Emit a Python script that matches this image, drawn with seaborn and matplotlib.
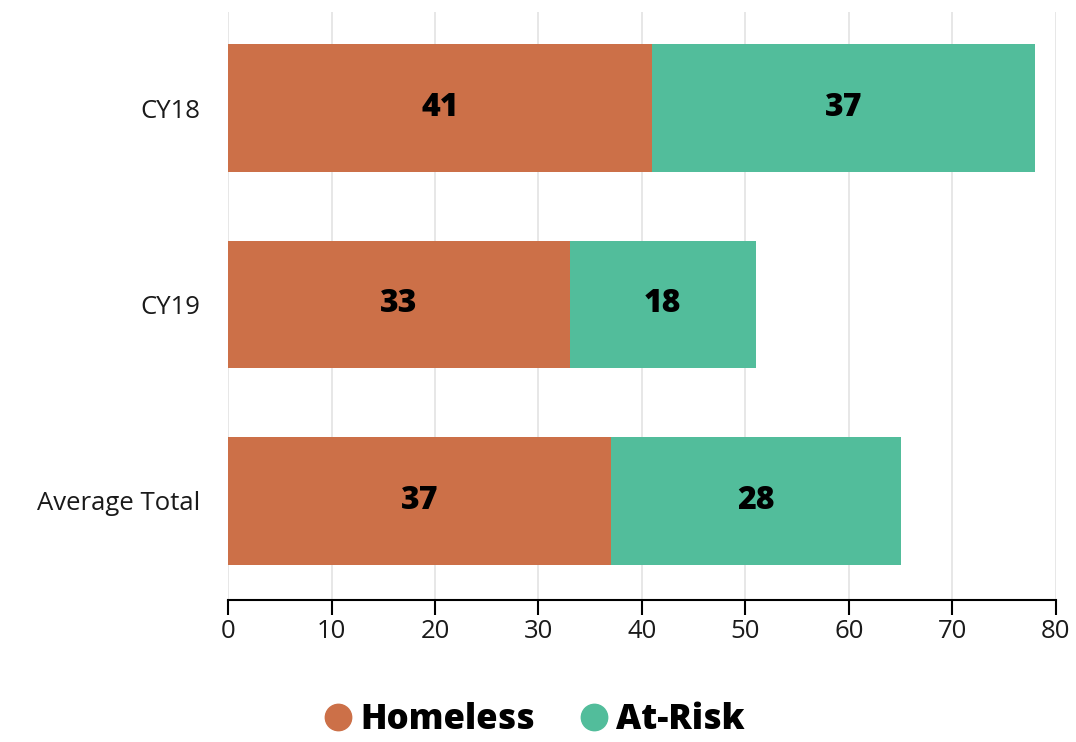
import numpy as np
import pandas as pd
import matplotlib
matplotlib.use("Agg")
import matplotlib.pyplot as plt
import seaborn as sns
from matplotlib.lines import Line2D

# ── Data ───────────────────────────────────────────────────────────────────────
categories = ["CY18", "CY19", "Average Total"]
homeless = [41, 33, 37]
at_risk = [37, 18, 28]
x_ticks = [0, 10, 20, 30, 40, 50, 60, 70, 80]

HOMELESS_COLOR = "#CC7048"
AT_RISK_COLOR = "#52BD9B"

sns.set_style("white")
plt.rcParams["font.family"] = ["Open Sans", "DejaVu Sans"]
plt.rcParams["text.color"] = "black"
plt.rcParams["xtick.labelcolor"] = "#1a1a1a"
plt.rcParams["ytick.labelcolor"] = "#1a1a1a"

df = pd.DataFrame({
    "category": categories,
    "homeless": homeless,
    "at_risk": at_risk,
})
df["total"] = df["homeless"] + df["at_risk"]

fig = plt.figure(figsize=(10.76, 7.42), dpi=100)
ax = fig.add_axes([0.2119, 0.1914, 0.7695, 0.7926])

# stacked bars: totals first (At-Risk colour), then Homeless on top
sns.barplot(data=df, x="total", y="category", order=categories,
            color=AT_RISK_COLOR, width=0.65, saturation=1, linewidth=0,
            ax=ax, zorder=2)
sns.barplot(data=df, x="homeless", y="category", order=categories,
            color=HOMELESS_COLOR, width=0.65, saturation=1, linewidth=0,
            ax=ax, zorder=3)

# value labels centred in each segment
for i, row in df.iterrows():
    ax.text(row["homeless"] / 2, i, f"{row['homeless']}", ha="center",
            va="center", fontsize=23, fontweight="heavy", color="black", zorder=4)
    ax.text(row["homeless"] + row["at_risk"] / 2, i, f"{row['at_risk']}",
            ha="center", va="center", fontsize=23, fontweight="heavy",
            color="black", zorder=4)

ax.set_xlim(0, 80)
ax.set_ylim(2.505, -0.49)
ax.set_xticks(x_ticks)
ax.set_xlabel("")
ax.set_ylabel("")

ax.grid(axis="x", color="#E3E3E3", linewidth=1.2, zorder=0)
ax.set_axisbelow(True)

for side in ["top", "right", "left"]:
    ax.spines[side].set_visible(False)
ax.spines["bottom"].set_color("black")
ax.spines["bottom"].set_linewidth(1.5)

ax.tick_params(axis="x", direction="out", length=11, width=1.5,
               color="black", labelsize=18.5, pad=3, bottom=True)
ax.tick_params(axis="y", length=0, labelsize=18.5, pad=20)

# legend with round markers at the bottom
handles = [
    Line2D([0], [0], marker="o", linestyle="", markersize=19,
           markerfacecolor=HOMELESS_COLOR, markeredgecolor=HOMELESS_COLOR,
           label="Homeless"),
    Line2D([0], [0], marker="o", linestyle="", markersize=19,
           markerfacecolor=AT_RISK_COLOR, markeredgecolor=AT_RISK_COLOR,
           label="At-Risk"),
]
fig.legend(handles=handles, loc="center", bbox_to_anchor=(0.495, 0.03),
           ncol=2, frameon=False, prop={"size": 25, "weight": "heavy"},
           handletextpad=0.15, columnspacing=1.2, handlelength=1.0,
           labelcolor="black")

fig.savefig("out.png", dpi=100)
plt.close(fig)
